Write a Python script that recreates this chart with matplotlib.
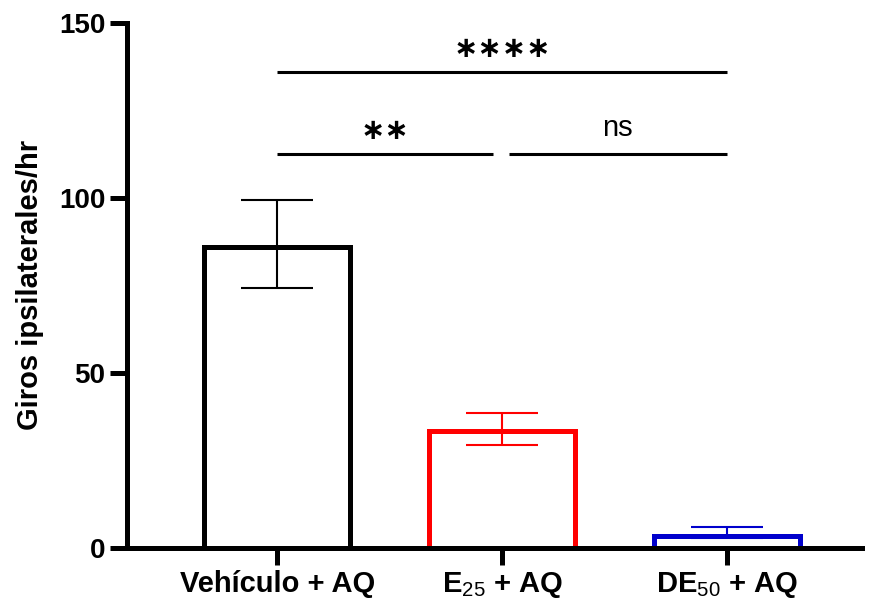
import matplotlib
matplotlib.use("Agg")
import matplotlib.pyplot as plt
import numpy as np

plt.rcParams["font.family"] = ["Liberation Sans", "DejaVu Sans"]
plt.rcParams["mathtext.fontset"] = "custom"
plt.rcParams["mathtext.rm"] = "Liberation Sans"

# Data
groups = ["Vehículo + AQ", r"E$_{\mathrm{25}}$ + AQ", r"DE$_{\mathrm{50}}$ + AQ"]
means = [86.0, 33.3, 3.4]
err_low = [11.7, 4.0, 0.6]
err_high = [13.4, 5.2, 2.6]
colors = ["black", "#FF0000", "#0000CC"]

# Comparisons: (group a, group b, y, label)
comparisons = [(0, 2, 136, "∗∗∗∗"), (0, 1, 112.5, "∗∗"), (1, 2, 112.5, "ns")]

fig = plt.figure(figsize=(8.74, 6.02), dpi=100)
ax = fig.add_axes([0.145, 0.09, 0.841, 0.872])

x = np.arange(len(groups))
for i in x:
    ax.bar(x[i], means[i], width=0.65, color="white", edgecolor=colors[i],
           linewidth=3.6, zorder=2)
    ax.errorbar(x[i], means[i], yerr=[[err_low[i]], [err_high[i]]], fmt="none",
                ecolor=colors[i], elinewidth=1.5, capsize=26, capthick=1.5, zorder=3)

# Significance lines
for a, b, y, lab in comparisons:
    xa, xb = x[a], x[b]
    if b - a == 1:
        if a == 0:
            xb = xb - 0.04
        else:
            xa = xa + 0.03
    ax.plot([xa, xb], [y, y], color="black", linewidth=2.2, solid_capstyle="butt")
    if lab == "ns":
        ax.text((xa + xb) / 2, y + 3.5, lab, ha="center", va="bottom", fontsize=21)
    else:
        ax.text((xa + xb) / 2, y + 2.5, lab, ha="center", va="bottom",
                fontsize=21, fontweight="bold", family="DejaVu Sans")

ax.set_xlim(-0.67, 2.6)
ax.set_ylim(0, 150)
ax.set_yticks([0, 50, 100, 150])
ax.set_xticks(x)
ax.set_xticklabels(groups, fontsize=21, fontweight="bold")
for lbl in ax.get_yticklabels():
    lbl.set_fontsize(20)
    lbl.set_fontweight("bold")
ax.set_ylabel("Giros ipsilaterales/hr", fontsize=21, fontweight="bold", labelpad=11)

for s in ["top", "right"]:
    ax.spines[s].set_visible(False)
for s in ["left", "bottom"]:
    ax.spines[s].set_linewidth(3.6)
ax.tick_params(axis="both", width=3.6, length=12)
ax.tick_params(axis="x", pad=4)

plt.savefig("out.png", dpi=100)
